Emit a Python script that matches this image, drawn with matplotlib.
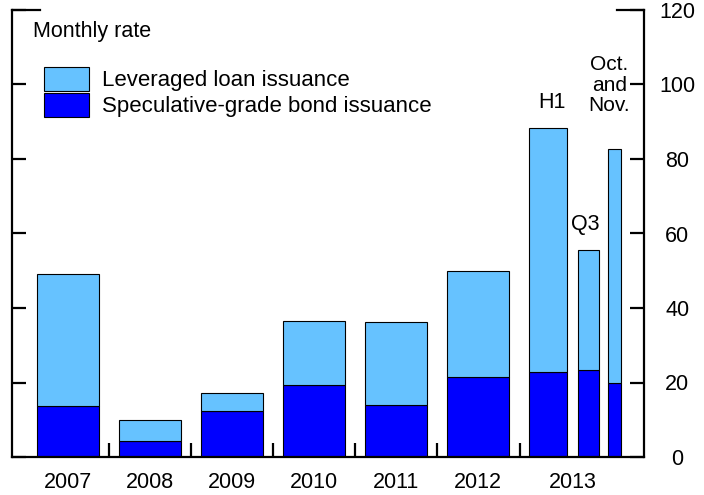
import matplotlib.pyplot as plt
import numpy as np

plt.rcParams['font.family'] = ['Liberation Sans', 'DejaVu Sans']

# bar positions (year index) and widths; 2013 split into H1, Q3, Oct.-Nov.
years = ['2007', '2008', '2009', '2010', '2011', '2012', '2013']
pos = [0, 1, 2, 3, 4, 5, 5.85, 6.34, 6.66]
widths = [0.76, 0.76, 0.76, 0.76, 0.76, 0.76, 0.46, 0.26, 0.16]

# values (monthly rate)
bond = [13.7, 4.4, 12.3, 19.3, 14.0, 21.5, 22.9, 23.4, 20.0]
total = [49.1, 9.9, 17.1, 36.5, 36.2, 49.9, 88.4, 55.6, 82.7]
loan = [t - b for t, b in zip(total, bond)]

light = '#66c2ff'
dark = '#0000ff'
fs = 15.5

fig = plt.figure(figsize=(7.04, 4.95), dpi=100)
ax = fig.add_axes([12/704, 38/495, 632/704, 447/495])

ax.bar(pos, bond, widths, color=dark, edgecolor='black', linewidth=0.8, label='Speculative-grade bond issuance')
ax.bar(pos, loan, widths, bottom=bond, color=light, edgecolor='black', linewidth=0.8, label='Leveraged loan issuance')

ax.set_xlim(-0.68, 7.02)
ax.set_ylim(0, 120)

# spines
ax.spines['top'].set_visible(False)
for s in ['left', 'right', 'bottom']:
    ax.spines[s].set_linewidth(1.6)

# y axis: labels on right, ticks inward on both sides
ax.set_yticks([0, 20, 40, 60, 80, 100, 120])
ax.yaxis.set_ticks_position('both')
ax.tick_params(axis='y', direction='in', length=10, width=1.6, labelleft=False,
               labelright=True, labelsize=fs, pad=24)
for lab in ax.get_yticklabels():
    lab.set_horizontalalignment('center')

# longer marks at the top
ax.plot([0, 28/632], [1, 1], color='black', lw=1.6, transform=ax.transAxes, clip_on=False)
ax.plot([1 - 27/632, 1], [1, 1], color='black', lw=1.6, transform=ax.transAxes, clip_on=False)

# x axis: year labels, separators between years
ax.set_xticks([0, 1, 2, 3, 4, 5, 6.15])
ax.set_xticklabels(years)
ax.set_xticks([0.5, 1.5, 2.5, 3.5, 4.5, 5.51], minor=True)
ax.tick_params(axis='x', which='major', length=0, labelsize=fs, pad=11)
ax.tick_params(axis='x', which='minor', direction='in', length=10, width=1.6)

ax.text(21/632, 1 - 22/447, 'Monthly rate', transform=ax.transAxes, fontsize=fs, va='center')

h, l = ax.get_legend_handles_labels()
ax.legend(h[::-1], l[::-1], loc='upper left', bbox_to_anchor=(0.0506, 0.872), frameon=False,
          fontsize=16, handlelength=2.03, handleheight=1.25, handletextpad=0.6,
          labelspacing=0.08, borderaxespad=0, borderpad=0)

ax.text(5.9, 95.3, 'H1', ha='center', va='center', fontsize=fs)
ax.text(6.31, 62.3, 'Q3', ha='center', va='center', fontsize=fs)
ax.text(6.6, 99.8, 'Oct.\nand\nNov.', ha='center', va='center', fontsize=15, linespacing=1.1)

fig.savefig('out.png', dpi=100)
